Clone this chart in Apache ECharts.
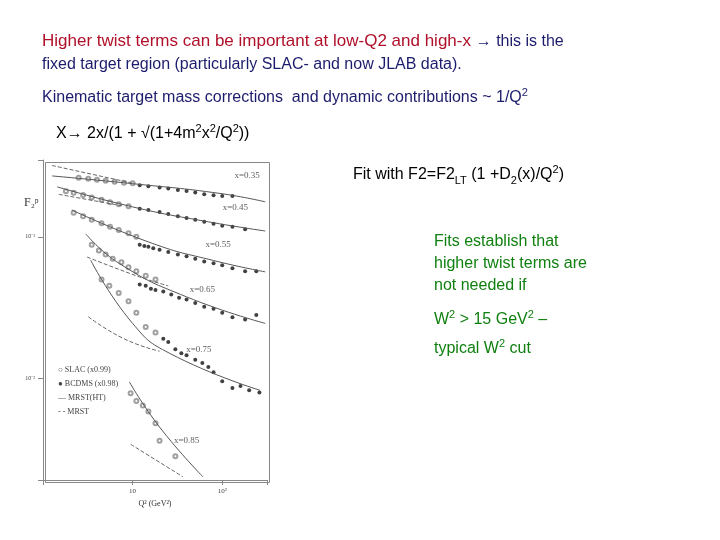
<!DOCTYPE html>
<html>
<head>
<meta charset="UTF-8">
<script src="https://cdn.jsdelivr.net/npm/echarts@6/dist/echarts.min.js"></script>
<style>
body { margin: 0; background: #fff; font-family: "Liberation Sans", Arial, sans-serif; }
#chart { position: absolute; left: 0; top: 0; width: 720px; height: 540px; }
.t { position: absolute; font-size: 17px; white-space: nowrap; }
.navy { color: #1c1c6c; }
.red { color: #b0102a; }
.green { color: #108010; }
sup, sub { font-size: 11px; }
</style>
</head>
<body>
<div id="chart"></div>
<div class="t red" style="left:42px;top:31px;">Higher twist terms can be important at low-Q2 and high-x <span class="navy" style="font-size:16px">→ this is the</span></div>
<div class="t navy" style="left:42px;top:55px;font-size:16px;">fixed target region (particularly SLAC- and now JLAB data).</div>
<div class="t navy" style="left:42px;top:86px;font-size:16px;">Kinematic target mass corrections&nbsp; and dynamic contributions ~ 1/Q<sup>2</sup></div>
<div class="t" style="left:56px;top:122px;font-size:16px;">X→ 2x/(1 + √(1+4m<sup>2</sup>x<sup>2</sup>/Q<sup>2</sup>))</div>
<div class="t" style="left:353px;top:163px;font-size:16px;">Fit with F2=F2<sub>LT</sub> (1 +D<sub>2</sub>(x)/Q<sup>2</sup>)</div>
<div class="t green" style="left:434px;top:230px;font-size:16px;line-height:22px;">Fits establish that<br>higher twist terms are<br>not needed if</div>
<div class="t green" style="left:434px;top:302px;font-size:16px;line-height:24px;">W<sup>2</sup> &gt; 15 GeV<sup>2</sup> –<br>typical W<sup>2</sup> cut</div>
<script>
// Q2 (GeV^2) values and F2 (plot scale) values
const slacQ = [
  [2.5, 3.2, 4, 5, 6.3, 8, 10],
  [1.8, 2.2, 2.8, 3.5, 4.5, 5.6, 7, 9],
  [2.2, 2.8, 3.5, 4.5, 5.6, 7, 9, 11],
  [3.5, 4.2, 5, 6, 7.5, 9, 11, 14, 18],
  [4.5, 5.5, 7, 9, 11, 14, 18],
  [9.5, 11, 13, 15, 18, 20, 30]
];
const slacF = [
  [0.262, 0.258, 0.254, 0.25, 0.246, 0.242, 0.24],
  [0.21, 0.205, 0.198, 0.19, 0.183, 0.176, 0.17, 0.165],
  [0.148, 0.14, 0.132, 0.125, 0.118, 0.112, 0.106, 0.1],
  [0.088, 0.08, 0.075, 0.07, 0.066, 0.061, 0.057, 0.053, 0.05],
  [0.05, 0.045, 0.04, 0.035, 0.029, 0.023, 0.021],
  [0.0078, 0.0069, 0.0064, 0.0058, 0.0048, 0.0036, 0.0028]
];
const bcdmsQ = [
  [12, 15, 20, 25, 32, 40, 50, 63, 80, 100, 130],
  [12, 15, 20, 25, 32, 40, 50, 63, 80, 100, 130, 180],
  [12, 13.5, 15, 17, 20, 25, 32, 40, 50, 63, 80, 100, 130, 180, 240],
  [12, 14, 16, 18, 22, 27, 33, 40, 50, 63, 80, 100, 130, 180, 240],
  [22, 25, 30, 35, 40, 50, 60, 70, 80, 100, 130, 160, 200, 260]
];
const bcdmsF = [
  [0.232, 0.228, 0.224, 0.22, 0.215, 0.211, 0.206, 0.2, 0.197, 0.195, 0.195],
  [0.158, 0.155, 0.15, 0.145, 0.14, 0.136, 0.132, 0.128, 0.124, 0.12, 0.118, 0.113],
  [0.088, 0.086, 0.085, 0.083, 0.081, 0.078, 0.075, 0.073, 0.07, 0.067, 0.065, 0.063, 0.06, 0.057, 0.057],
  [0.046, 0.045, 0.043, 0.042, 0.041, 0.039, 0.037, 0.036, 0.034, 0.032, 0.031, 0.029, 0.027, 0.026, 0.028],
  [0.019, 0.018, 0.016, 0.015, 0.0145, 0.0135, 0.0128, 0.012, 0.011, 0.0095, 0.0085, 0.0088, 0.0082, 0.0079]
];
const htQ = [
  [1.26, 10, 94, 302],
  [1.44, 10, 60, 302],
  [2.1, 16.8, 80, 302],
  [3.0, 7.1, 40, 302],
  [3.4, 10, 25.8, 264],
  [9.2, 20, 61]
];
const htF = [
  [0.27, 0.238, 0.203, 0.177],
  [0.226, 0.163, 0.13, 0.11],
  [0.155, 0.0897, 0.068, 0.0565],
  [0.105, 0.0648, 0.0376, 0.0244],
  [0.0684, 0.0244, 0.015, 0.0082],
  [0.0094, 0.0045, 0.002]
];
const lqQ = [[1.26, 10], [1.5, 8], [3.1, 12, 25], [3.2, 8, 20], [9.5, 36.5]];
const lqF = [[0.32, 0.24], [0.2, 0.165], [0.072, 0.052, 0.045], [0.0272, 0.019, 0.0155], [0.0034, 0.002]];
const binLabels = ['x=0.35', 'x=0.45', 'x=0.55', 'x=0.65', 'x=0.75', 'x=0.85'];
const labelPos = [[190, 0.27], [140, 0.16], [90, 0.088], [60, 0.042], [55, 0.016], [40, 0.0036]];

const pair = (q, f) => q.map((v, i) => [v, f[i]]);
const series = [];
slacQ.forEach((q, k) => series.push({ type: 'scatter', symbol: 'emptyCircle', symbolSize: 4,
  itemStyle: { color: '#888', borderColor: '#888' }, data: pair(q, slacF[k]) }));
bcdmsQ.forEach((q, k) => series.push({ type: 'scatter', symbol: 'circle', symbolSize: 4,
  itemStyle: { color: '#111' }, data: pair(q, bcdmsF[k]) }));
htQ.forEach((q, k) => series.push({ type: 'line', smooth: true, symbol: 'none',
  lineStyle: { color: '#555', width: 1 }, data: pair(q, htF[k]) }));
lqQ.forEach((q, k) => series.push({ type: 'line', smooth: true, symbol: 'none',
  lineStyle: { color: '#666', width: 1, type: 'dashed' }, data: pair(q, lqF[k]) }));
series.push({ type: 'scatter', symbolSize: 0, data: labelPos.map((p, i) => ({ value: p, name: binLabels[i] })),
  label: { show: true, formatter: '{b}', color: '#333', fontSize: 9, fontFamily: 'Liberation Serif' } });

const chart = echarts.init(document.getElementById('chart'));
chart.setOption({
  animation: false,
  grid: { left: 43, top: 160, width: 224, height: 320 },
  xAxis: { type: 'log', min: 1, max: 316, logBase: 10,
    axisLine: { lineStyle: { color: '#888' } }, splitLine: { show: false },
    axisLabel: { fontSize: 7, color: '#444', fontFamily: 'Liberation Serif',
      formatter: v => v === 10 ? '10' : (v === 100 ? '10²' : '') },
    name: 'Q² (GeV²)', nameLocation: 'middle', nameGap: 10,
    nameTextStyle: { fontSize: 8, color: '#333', fontFamily: 'Liberation Serif' } },
  yAxis: { type: 'log', min: 0.0019, max: 0.35, logBase: 10,
    axisLine: { lineStyle: { color: '#888' } }, splitLine: { show: false },
    axisLabel: { fontSize: 6, color: '#444', fontFamily: 'Liberation Serif',
      formatter: v => [0.1, 0.01].includes(+v.toPrecision(2)) ? '10' + (v > 0.05 ? '⁻¹' : '⁻²') : '' } },
  graphic: [
    { type: 'text', left: 24, top: 197, style: { text: 'F₂ᵖ', fontSize: 12, fontFamily: 'Liberation Serif', fill: '#333' } },
    { type: 'rect', left: 43, top: 160, shape: { width: 224, height: 320 }, style: { fill: 'none', stroke: '#888' } },
    { type: 'text', left: 58, top: 363, style: { text: '○ SLAC (x0.99)\n● BCDMS (x0.98)\n— MRST(HT)\n- - MRST', lineHeight: 14, fontSize: 8, fontFamily: 'Liberation Serif', fill: '#444' } }
  ],
  series: series
});
</script>
</body>
</html>
